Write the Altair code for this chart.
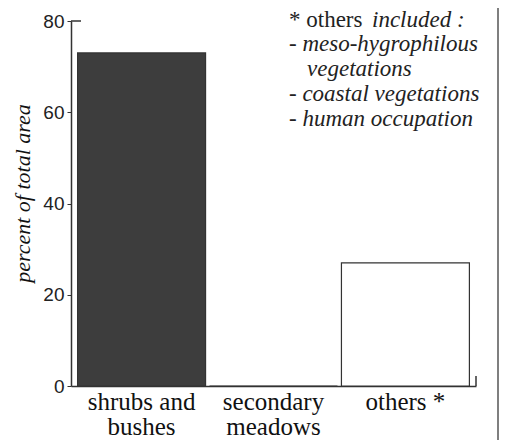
import altair as alt
import pandas as pd

categories = ["shrubs and bushes", "secondary meadows", "others *"]
axis_labels = ["shrubs and|bushes", "secondary|meadows", "others *"]
values = [73, 0, 27]
fills = ["#3d3d3d", "#ffffff", "#ffffff"]
y_ticks = [0, 20, 40, 60, 80]

note_head_regular = "* others"
note_head_italic = "included :"
note_lines = ["- meso-hygrophilous", "vegetations", "- coastal vegetations", "- human occupation"]
note_indents = [0, 18, 0, 0]

SERIF = "Liberation Serif"
SANS = "Liberation Sans"

df = pd.DataFrame({"category": categories, "value": values})
label_map = {c: l for c, l in zip(categories, axis_labels)}
label_expr = " : ".join(
    [f"datum.label == '{c}' ? split('{l}', '|')" for c, l in label_map.items()]
) + " : datum.label"

W, H = 405, 365

x = alt.X(
    "category:N",
    sort=categories,
    scale=alt.Scale(paddingInner=0.03, paddingOuter=0.05),
    axis=alt.Axis(
        title=None,
        ticks=False,
        labelAngle=0,
        labelFont=SERIF,
        labelFontSize=25,
        labelColor="#111",
        labelLineHeight=25,
        labelPadding=3,
        labelExpr=label_expr,
        domainColor="#333",
        domainWidth=1.5,
    ),
)
y = alt.Y(
    "value:Q",
    scale=alt.Scale(domain=[0, 80]),
    axis=alt.Axis(
        values=y_ticks,
        title="percent of total area",
        titleFont=SERIF,
        titleFontStyle="italic",
        titleFontWeight="normal",
        titleFontSize=22,
        titleColor="#111",
        titleAngle=270,
        titleAlign="center",
        titleBaseline="alphabetic",
        titleX=-42,
        titleY=172,
        labelFont=SANS,
        labelFontSize=19,
        labelColor="#222",
        labelPadding=3,
        tickSize=4,
        tickColor="#333",
        domainColor="#333",
        domainWidth=1.5,
        grid=False,
    ),
)

bars = alt.Chart(df).mark_bar(stroke="#333", strokeWidth=1.2).encode(
    x=x,
    y=y,
    fill=alt.Fill("category:N", scale=alt.Scale(domain=categories, range=fills), legend=None),
)

top_tick = alt.Chart(pd.DataFrame({"v": [80]})).mark_rule(color="#333", strokeWidth=1.5).encode(
    y="v:Q", x=alt.value(0), x2=alt.value(10)
)
end_tick = alt.Chart(pd.DataFrame({"v": [0]})).mark_rule(color="#333", strokeWidth=1.5).encode(
    x=alt.value(W), y=alt.value(H - 10), y2=alt.value(H)
)
frame = alt.Chart(pd.DataFrame({"v": [0]})).mark_rule(color="#555", strokeWidth=1.5).encode(
    x=alt.value(427), y=alt.value(-25), y2=alt.value(420)
)

note_font = dict(font=SERIF, fontSize=23, color="#222", align="left", baseline="alphabetic")
NOTE_X, NOTE_Y, NOTE_LH = 218, 5.5, 24.8
head1 = alt.Chart(pd.DataFrame({"t": [note_head_regular]})).mark_text(**note_font).encode(
    text="t:N", x=alt.value(NOTE_X), y=alt.value(NOTE_Y)
)
head2 = alt.Chart(pd.DataFrame({"t": [note_head_italic]})).mark_text(fontStyle="italic", **note_font).encode(
    text="t:N", x=alt.value(NOTE_X + 83), y=alt.value(NOTE_Y)
)
body = [
    alt.Chart(pd.DataFrame({"t": [line]})).mark_text(fontStyle="italic", **note_font).encode(
        text="t:N", x=alt.value(NOTE_X + ind), y=alt.value(NOTE_Y + NOTE_LH * (i + 1))
    )
    for i, (line, ind) in enumerate(zip(note_lines, note_indents))
]

chart = alt.layer(bars, top_tick, end_tick, frame, head1, head2, *body).properties(
    width=W,
    height=H,
    autosize=alt.AutoSizeParams(type="none"),
    padding={"left": 63, "top": 13, "right": 28, "bottom": 54},
).configure_view(stroke=None)

chart.save("out.html", embed_options={"renderer": "svg", "actions": False})
